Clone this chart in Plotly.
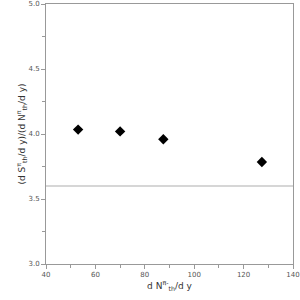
import plotly.graph_objects as go

x_vals = [53, 70, 87.5, 127.4]
y_vals = [4.034, 4.02, 3.96, 3.785]
ref_level = 3.6
x_ticks = [40, 60, 80, 100, 120, 140]
y_ticks = [3.0, 3.5, 4.0, 4.5, 5.0]

fig = go.Figure()
fig.add_trace(go.Scatter(x=x_vals, y=y_vals, mode="markers",
                         marker=dict(symbol="diamond", size=8, color="black"),
                         showlegend=False))
fig.add_shape(type="line", xref="paper", x0=0, x1=1, yref="y", y0=ref_level, y1=ref_level,
              line=dict(color="#c8c8c8", width=1.5))

axis_common = dict(showgrid=False, zeroline=False, showline=True, linecolor="#999999",
                   linewidth=1, mirror=True, ticks="outside", ticklen=4, tickcolor="#999999",
                   automargin=False,
                   tickfont=dict(family="DejaVu Sans", size=7, color="#555555"))
fig.update_xaxes(range=[40, 140], tickvals=x_ticks, ticktext=[str(v) for v in x_ticks],
                 minor=dict(dtick=10, ticks="outside", ticklen=3, tickcolor="#999999"),
                 title=dict(text="d N<sup>π-</sup><sub>th</sub>/d y",
                            font=dict(family="DejaVu Sans", size=9, color="#333333"), standoff=2),
                 **axis_common)
fig.update_yaxes(range=[3.0, 5.0], tickvals=y_ticks, ticktext=[f"{v:.1f}" for v in y_ticks],
                 minor=dict(dtick=0.25, ticks="outside", ticklen=3, tickcolor="#999999"),
                 title=dict(text="(d S<sup>π</sup><sub>th</sub>/d y)/(d N<sup>π</sup><sub>th</sub>/d y)",
                            font=dict(family="DejaVu Sans", size=9, color="#333333"), standoff=1),
                 **axis_common)
fig.update_layout(width=300, height=300, margin=dict(l=46, r=7, t=4, b=36, pad=0),
                  plot_bgcolor="white", paper_bgcolor="white")
fig.write_html("out.html", config={"displayModeBar": False},
               post_script="document.body.style.margin='0';")
